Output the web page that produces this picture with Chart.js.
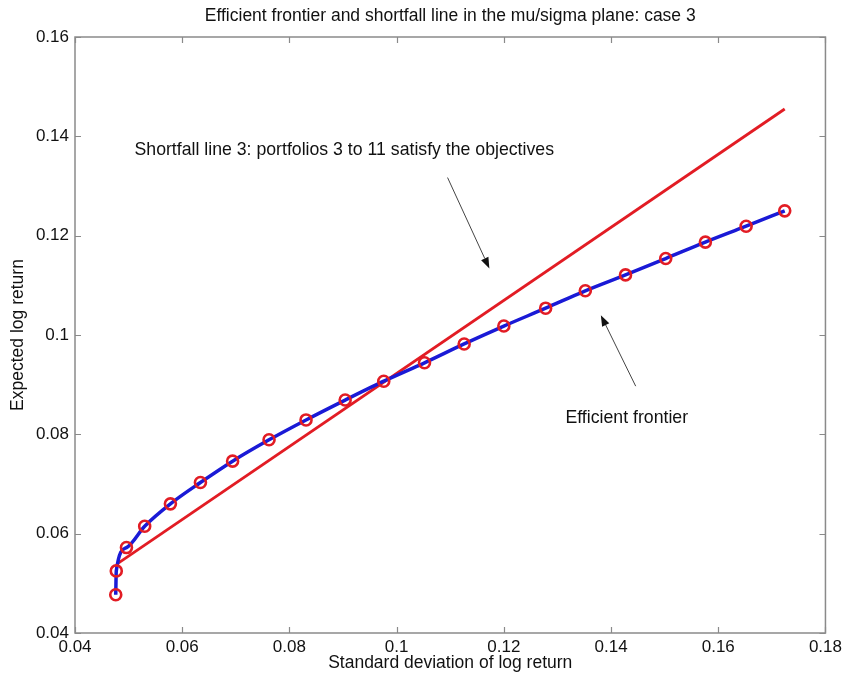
<!DOCTYPE html>
<html>
<head>
<meta charset="utf-8">
<script src="https://cdn.jsdelivr.net/npm/chart.js@4"></script>
<style>
  html, body { margin: 0; padding: 0; background: #ffffff; }
  canvas { display: block; }
</style>
</head>
<body>
<canvas id="c" width="846" height="681"></canvas>
<script>
// ---- data ----
const frontierSigma = [0.0476, 0.0477, 0.0496, 0.0530, 0.0578, 0.0634, 0.0694, 0.0762, 0.0831, 0.0904, 0.0976,
                       0.1052, 0.1126, 0.1200, 0.1278, 0.1352, 0.1427, 0.1502, 0.1576, 0.1652, 0.1724];
const frontierMu    = [0.0477, 0.0525, 0.0572, 0.0615, 0.0660, 0.0703, 0.0746, 0.0789, 0.0829, 0.0869, 0.0907,
                       0.0944, 0.0982, 0.1018, 0.1054, 0.1089, 0.1121, 0.1154, 0.1187, 0.1219, 0.1250];
const shortfallSigma = [0.0480, 0.1724];
const shortfallMu    = [0.0540, 0.1455];

const xTicks = [0.04, 0.06, 0.08, 0.10, 0.12, 0.14, 0.16, 0.18];
const xTickLabels = ["0.04", "0.06", "0.08", "0.1", "0.12", "0.14", "0.16", "0.18"];
const yTicks = [0.04, 0.06, 0.08, 0.10, 0.12, 0.14, 0.16];
const yTickLabels = ["0.04", "0.06", "0.08", "0.1", "0.12", "0.14", "0.16"];

const titleText = "Efficient frontier and shortfall line in the mu/sigma plane: case 3";
const xTitle = "Standard deviation of log return";
const yTitle = "Expected log return";

// annotations (text anchor and arrows in data units)
const notes = [
  { text: "Shortfall line 3: portfolios 3 to 11 satisfy the objectives", x: 0.0511, y: 0.1372 },
  { text: "Efficient frontier", x: 0.1315, y: 0.0833 }
];
const arrows = [
  { x0: 0.1095, y0: 0.1317, x1: 0.1173, y1: 0.1134 },
  { x0: 0.1446, y0: 0.0897, x1: 0.1381, y1: 0.1040 }
];

// ---- styles ----
const FONT = "'Liberation Sans', Arial, Helvetica, sans-serif";
const BLUE = '#1a1ad6';
const RED = '#e21c24';
const AXIS = '#8a8a8a';

const toXY = (xs, ys) => xs.map((v, i) => ({ x: v, y: ys[i] }));

const decor = {
  id: 'decor',
  afterDraw(chart) {
    const ctx = chart.ctx;
    const a = chart.chartArea;
    const sx = chart.scales.x, sy = chart.scales.y;
    ctx.save();
    // box
    ctx.strokeStyle = AXIS;
    ctx.lineWidth = 1.5;
    ctx.strokeRect(a.left, a.top, a.right - a.left, a.bottom - a.top);
    // inward ticks
    const tl = 6;
    ctx.beginPath();
    xTicks.forEach(v => {
      const px = Math.round(sx.getPixelForValue(v)) + 0.5;
      ctx.moveTo(px, a.bottom); ctx.lineTo(px, a.bottom - tl);
      ctx.moveTo(px, a.top); ctx.lineTo(px, a.top + tl);
    });
    yTicks.forEach(v => {
      const py = Math.round(sy.getPixelForValue(v)) + 0.5;
      ctx.moveTo(a.left, py); ctx.lineTo(a.left + tl, py);
      ctx.moveTo(a.right, py); ctx.lineTo(a.right - tl, py);
    });
    ctx.lineWidth = 1.2;
    ctx.stroke();

    // arrows
    arrows.forEach(ar => {
      const x0 = sx.getPixelForValue(ar.x0), y0 = sy.getPixelForValue(ar.y0);
      const x1 = sx.getPixelForValue(ar.x1), y1 = sy.getPixelForValue(ar.y1);
      const ang = Math.atan2(y1 - y0, x1 - x0);
      const hl = 11, hw = 4;
      const bx = x1 - hl * Math.cos(ang), by = y1 - hl * Math.sin(ang);
      ctx.strokeStyle = '#444444';
      ctx.lineWidth = 1;
      ctx.beginPath(); ctx.moveTo(x0, y0); ctx.lineTo(bx, by); ctx.stroke();
      ctx.fillStyle = '#111111';
      ctx.beginPath();
      ctx.moveTo(x1, y1);
      ctx.lineTo(bx + hw * Math.sin(ang), by - hw * Math.cos(ang));
      ctx.lineTo(bx - hw * Math.sin(ang), by + hw * Math.cos(ang));
      ctx.closePath(); ctx.fill();
    });

    // annotation texts
    ctx.fillStyle = '#111111';
    ctx.font = '17.7px ' + FONT;
    ctx.textAlign = 'left';
    ctx.textBaseline = 'middle';
    notes.forEach(n => {
      ctx.fillText(n.text, sx.getPixelForValue(n.x), sy.getPixelForValue(n.y));
    });

    // title
    const cx = (a.left + a.right) / 2;
    ctx.font = '17.5px ' + FONT;
    ctx.textAlign = 'center';
    ctx.fillText(titleText, cx, 16);
    // axis titles
    ctx.font = '17.5px ' + FONT;
    ctx.fillText(xTitle, cx, 663);
    ctx.save();
    ctx.translate(18, (a.top + a.bottom) / 2);
    ctx.rotate(-Math.PI / 2);
    ctx.fillText(yTitle, 0, 0);
    ctx.restore();
    ctx.restore();
  }
};

new Chart(document.getElementById('c'), {
  type: 'scatter',
  data: {
    datasets: [
      {
        label: 'markers',
        data: toXY(frontierSigma, frontierMu),
        showLine: false,
        pointStyle: 'circle',
        pointRadius: 5.5,
        pointBorderWidth: 2.6,
        pointBackgroundColor: 'rgba(0,0,0,0)',
        pointBorderColor: RED,
        order: 0
      },
      {
        label: 'Efficient frontier',
        data: toXY(frontierSigma, frontierMu),
        showLine: true,
        borderColor: BLUE,
        borderWidth: 3.5,
        pointRadius: 0,
        cubicInterpolationMode: 'monotone',
        order: 1
      },
      {
        label: 'Shortfall line 3',
        data: toXY(shortfallSigma, shortfallMu),
        showLine: true,
        borderColor: RED,
        borderWidth: 2.8,
        pointRadius: 0,
        order: 2
      }
    ]
  },
  options: {
    responsive: false,
    devicePixelRatio: 1,
    animation: false,
    layout: { padding: { top: 37, right: 16, left: 0, bottom: 0 } },
    plugins: { legend: { display: false }, tooltip: { enabled: false }, title: { display: false } },
    scales: {
      x: {
        type: 'linear', min: 0.04, max: 0.18,
        grid: { display: false, drawTicks: false },
        border: { display: false },
        afterBuildTicks: s => { s.ticks = xTicks.map(v => ({ value: v })); },
        afterFit: s => { s.height = 48; },
        ticks: {
          padding: 4,
          color: '#111111',
          font: { family: FONT, size: 17 },
          maxRotation: 0, autoSkip: false,
          callback: (v, i) => xTickLabels[i]
        }
      },
      y: {
        type: 'linear', min: 0.04, max: 0.16,
        grid: { display: false, drawTicks: false },
        border: { display: false },
        afterBuildTicks: s => { s.ticks = yTicks.map(v => ({ value: v })); },
        afterFit: s => { s.width = 75; },
        ticks: {
          padding: 6,
          color: '#111111',
          font: { family: FONT, size: 17 },
          autoSkip: false,
          callback: (v, i) => yTickLabels[i]
        }
      }
    }
  },
  plugins: [decor]
});
</script>
</body>
</html>
